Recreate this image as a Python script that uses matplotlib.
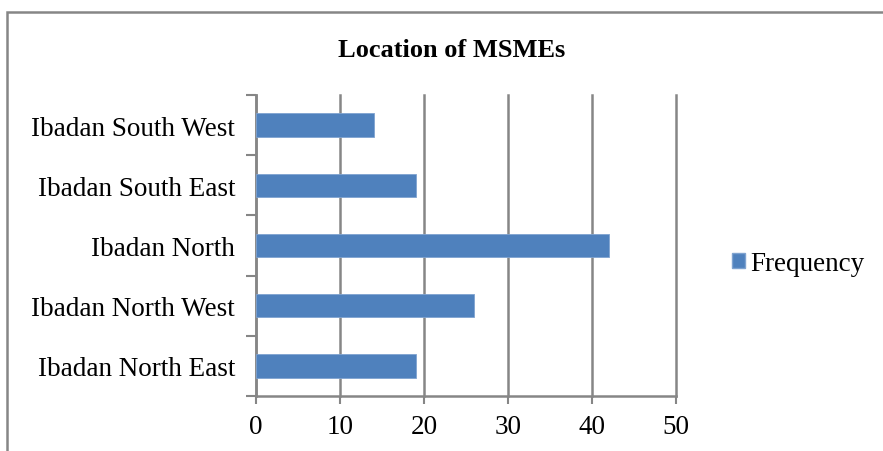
import matplotlib.pyplot as plt
import numpy as np
from matplotlib.patches import Rectangle, Patch

# data (bottom to top as drawn)
locations = ["Ibadan North East", "Ibadan North West", "Ibadan North",
             "Ibadan South East", "Ibadan South West"]
frequency = [19, 26, 42, 19, 14]
series_name = "Frequency"
title = "Location of MSMEs"

plt.rcParams['font.family'] = ['Liberation Serif', 'DejaVu Serif']

bar_color = "#4F81BD"
axis_gray = "#868686"

fig = plt.figure(figsize=(8.83, 4.52), dpi=100)
ax = fig.add_axes([0.290, 0.1217, 0.4756, 0.6659])

y = np.arange(len(locations))
ax.barh(y, frequency, height=0.39, color=bar_color, edgecolor="#7FA3D0",
        linewidth=0.6, zorder=3)

ax.set_xlim(0, 50)
ax.set_ylim(-0.5, len(locations) - 0.5)
ax.set_xticks(np.arange(0, 51, 10))
ax.tick_params(axis='x', labelsize=19.5, length=6, width=1.5, color=axis_gray,
               pad=7, direction='out')

# boundary ticks on y, labels at bar centres
ax.set_yticks(np.arange(-0.5, len(locations), 1.0))
ax.set_yticklabels([])
ax.tick_params(axis='y', which='major', length=7, width=1.5, color=axis_gray,
               direction='out')
ax.set_yticks(y, minor=True)
ax.set_yticklabels(locations, minor=True)
ax.tick_params(axis='y', which='minor', length=0, labelsize=19.5, pad=15)

ax.grid(axis='x', color=axis_gray, linewidth=1.8, zorder=0)
for gl in ax.get_xgridlines():
    gl.set_clip_on(False)
ax.spines['top'].set_visible(False)
ax.spines['right'].set_visible(False)
ax.spines['left'].set_color(axis_gray)
ax.spines['bottom'].set_color(axis_gray)
ax.spines['left'].set_linewidth(1.8)
ax.spines['bottom'].set_linewidth(1.8)
ax.set_axisbelow(True)

fig.text(0.512, 0.889, title, ha='center', va='center', fontsize=19,
         fontweight='bold')

handle = Patch(facecolor=bar_color, edgecolor="#7FA3D0")
fig.legend([handle], [series_name], loc='center left',
           bbox_to_anchor=(0.801, 0.414), frameon=False, fontsize=19.5,
           handlelength=0.5, handleheight=0.5, handletextpad=0.2)

# outer chart border (cut off at right and bottom like the reference)
fig.patches.append(Rectangle((7 / 883, -0.05), 1.2, 1 - 13 / 452 + 0.05,
                             transform=fig.transFigure, fill=False,
                             edgecolor=axis_gray, linewidth=1.8))

fig.savefig("out.png", dpi=100)
